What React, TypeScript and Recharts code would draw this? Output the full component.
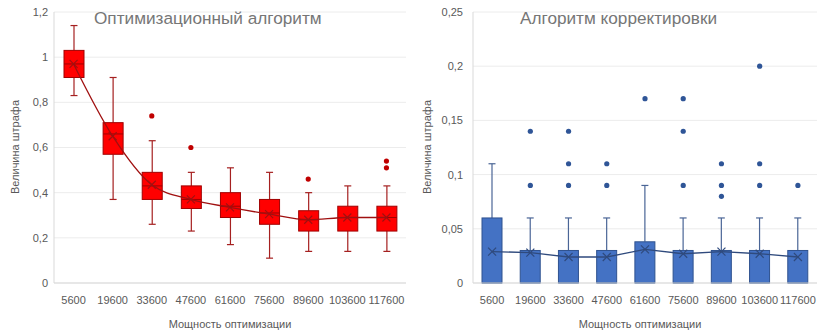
import { ComposedChart, Bar, Line, XAxis, YAxis, CartesianGrid } from "recharts";

const categories = ["5600", "19600", "33600", "47600", "61600", "75600", "89600", "103600", "117600"];

// Оптимизационный алгоритм
const optLow = [0.83, 0.37, 0.26, 0.23, 0.17, 0.11, 0.14, 0.14, 0.14];
const optQ1 = [0.91, 0.57, 0.37, 0.33, 0.29, 0.26, 0.23, 0.23, 0.23];
const optMedian = [0.97, 0.66, 0.43, 0.37, 0.34, 0.31, 0.28, 0.29, 0.29];
const optQ3 = [1.03, 0.71, 0.49, 0.43, 0.4, 0.37, 0.32, 0.34, 0.34];
const optHigh = [1.14, 0.91, 0.63, 0.49, 0.51, 0.49, 0.4, 0.43, 0.43];
const optMean = [0.97, 0.65, 0.435, 0.37, 0.335, 0.305, 0.28, 0.29, 0.29];
const optOutliers = [[], [], [0.74], [0.6], [], [], [0.46], [], [0.54, 0.51]];
const optTicks = [0, 0.2, 0.4, 0.6, 0.8, 1, 1.2];

// Алгоритм корректировки
const corLow = [0, 0, 0, 0, 0, 0, 0, 0, 0];
const corQ1 = [0, 0, 0, 0, 0, 0, 0, 0, 0];
const corMedian = [0, 0, 0, 0, 0, 0, 0, 0, 0];
const corQ3 = [0.06, 0.03, 0.03, 0.03, 0.038, 0.03, 0.03, 0.03, 0.03];
const corHigh = [0.11, 0.06, 0.06, 0.06, 0.09, 0.06, 0.06, 0.06, 0.06];
const corMean = [0.029, 0.028, 0.024, 0.024, 0.031, 0.027, 0.029, 0.027, 0.024];
const corOutliers = [
  [], [0.14, 0.09], [0.14, 0.11, 0.09], [0.11, 0.09], [0.17],
  [0.17, 0.14, 0.09], [0.11, 0.09, 0.08], [0.2, 0.11, 0.09], [0.09],
];
const corTicks = [0, 0.05, 0.1, 0.15, 0.2, 0.25];

function buildRows(low, q1, med, q3, high, mean, outliers) {
  return categories.map((cat, i) => ({
    cat,
    low: low[i],
    q1: q1[i],
    median: med[i],
    q3: q3[i],
    high: high[i],
    mean: mean[i],
    o1: outliers[i][0] ?? null,
    o2: outliers[i][1] ?? null,
    o3: outliers[i][2] ?? null,
  }));
}

const optData = buildRows(optLow, optQ1, optMedian, optQ3, optHigh, optMean, optOutliers);
const corData = buildRows(corLow, corQ1, corMedian, corQ3, corHigh, corMean, corOutliers);

const font = '"Liberation Sans", Arial, sans-serif';
const tickStyle = { fill: "#595959", fontSize: 11, fontFamily: font };
const fmt = (v: number) => String(v).replace(".", ",");

type Palette = { fill: string; edge: string; whisker: string; mean: string; dot: string };

const redPalette: Palette = { fill: "#ff0000", edge: "#a00000", whisker: "#a52020", mean: "#a01010", dot: "#c00000" };
const bluePalette: Palette = { fill: "#4472c4", edge: "#2f528f", whisker: "#4a6596", mean: "#2f4a7d", dot: "#2f5597" };

function makeBoxShape(pal: Palette) {
  return (props: any) => {
    const { x, y, width, height, payload } = props;
    if (payload == null || !isFinite(y) || !isFinite(height)) return <g />;
    const top = Math.min(y, y + height);
    const bottom = Math.max(y, y + height);
    const lo = payload.low;
    const hi = payload.high;
    const py = (v: number) => bottom - ((v - lo) / (hi - lo)) * (bottom - top);
    const cx = x + width / 2;
    const cap = 3.5;
    return (
      <g>
        <line x1={cx} x2={cx} y1={py(hi)} y2={py(payload.q3)} stroke={pal.whisker} strokeWidth={1.2} />
        <line x1={cx - cap} x2={cx + cap} y1={py(hi)} y2={py(hi)} stroke={pal.whisker} strokeWidth={1.2} />
        {payload.q1 > lo && (
          <>
            <line x1={cx} x2={cx} y1={py(payload.q1)} y2={py(lo)} stroke={pal.whisker} strokeWidth={1.2} />
            <line x1={cx - cap} x2={cx + cap} y1={py(lo)} y2={py(lo)} stroke={pal.whisker} strokeWidth={1.2} />
          </>
        )}
        <rect
          x={x}
          y={py(payload.q3)}
          width={width}
          height={py(payload.q1) - py(payload.q3)}
          fill={pal.fill}
          stroke={pal.edge}
          strokeWidth={1}
        />
        <line x1={x} x2={x + width} y1={py(payload.median)} y2={py(payload.median)} stroke={pal.edge} strokeWidth={1} />
      </g>
    );
  };
}

function makeMeanDot(color: string) {
  return (p: any) => {
    const { cx, cy, index } = p;
    if (typeof cy !== "number" || !isFinite(cy)) return <g key={index} />;
    const s = 4;
    return (
      <path
        key={index}
        d={`M${cx - s},${cy - s}L${cx + s},${cy + s}M${cx - s},${cy + s}L${cx + s},${cy - s}`}
        stroke={color}
        strokeWidth={1.2}
        fill="none"
      />
    );
  };
}

function makeOutlierDot(color: string) {
  return (p: any) => {
    const { cx, cy, index, value } = p;
    if (value == null || typeof cy !== "number" || !isFinite(cy)) return <g key={index} />;
    return <circle key={index} cx={cx} cy={cy} r={2.6} fill={color} stroke="none" />;
  };
}

function BoxChart({ data, ticks, pal, width, yWidth, right, curve }) {
  const boxShape = makeBoxShape(pal);
  return (
    <ComposedChart width={width} height={334} data={data} margin={{ top: 12, right, bottom: 0, left: 0 }}>
      <CartesianGrid vertical={false} stroke="#ececec" />
      <XAxis
        dataKey="cat"
        interval={0}
        height={51}
        tick={tickStyle}
        tickLine={false}
        tickSize={0}
        tickMargin={13}
        axisLine={{ stroke: "#d9d9d9" }}
      />
      <YAxis
        width={yWidth}
        domain={[ticks[0], ticks[ticks.length - 1]]}
        ticks={ticks}
        tickFormatter={fmt}
        tick={tickStyle}
        tickLine={false}
        tickSize={0}
        tickMargin={yWidth === 54 ? 6 : 10}
        axisLine={{ stroke: "#d9d9d9" }}
        interval={0}
      />
      <Bar dataKey={(d: any) => [d.low, d.high]} barSize={20} shape={boxShape} isAnimationActive={false} />
      <Line
        type={curve}
        dataKey="mean"
        stroke={pal.mean}
        strokeWidth={1.3}
        dot={makeMeanDot(pal.mean)}
        activeDot={false}
        isAnimationActive={false}
      />
      {["o1", "o2", "o3"].map((k) => (
        <Line
          key={k}
          dataKey={k}
          stroke="none"
          connectNulls={false}
          dot={makeOutlierDot(pal.dot)}
          activeDot={false}
          isAnimationActive={false}
        />
      ))}
    </ComposedChart>
  );
}

const titleStyle = {
  position: "absolute" as const,
  top: 6,
  fontFamily: font,
  fontSize: 17.2,
  color: "#767676",
  whiteSpace: "nowrap" as const,
  lineHeight: "24px",
};

const axisTitle = {
  position: "absolute" as const,
  fontFamily: font,
  fontSize: 11,
  color: "#595959",
  whiteSpace: "nowrap" as const,
  lineHeight: "14px",
};

export default function App() {
  return (
    <div style={{ position: "absolute", left: 0, top: 0, width: 823, height: 334, background: "#fff", overflow: "hidden" }}>
      <div style={{ position: "absolute", left: 0, top: 0 }}>
        <BoxChart data={optData} ticks={optTicks} pal={redPalette} width={411} yWidth={54} right={5} curve="monotone" />
      </div>
      <div style={{ position: "absolute", left: 411, top: 0 }}>
        <BoxChart data={corData} ticks={corTicks} pal={bluePalette} width={412} yWidth={62} right={6} curve="linear" />
      </div>

      <div style={{ ...titleStyle, left: 94 }}>Оптимизационный алгоритм</div>
      <div style={{ ...titleStyle, left: 520 }}>Алгоритм корректировки</div>

      <div style={{ ...axisTitle, left: 230, top: 317, transform: "translateX(-50%)" }}>Мощность оптимизации</div>
      <div style={{ ...axisTitle, left: 640, top: 317, transform: "translateX(-50%)" }}>Мощность оптимизации</div>

      <div style={{ ...axisTitle, left: 15, top: 147, transform: "translate(-50%, -50%) rotate(-90deg)" }}>Величина штрафа</div>
      <div style={{ ...axisTitle, left: 427, top: 147, transform: "translate(-50%, -50%) rotate(-90deg)" }}>Величина штрафа</div>
    </div>
  );
}
